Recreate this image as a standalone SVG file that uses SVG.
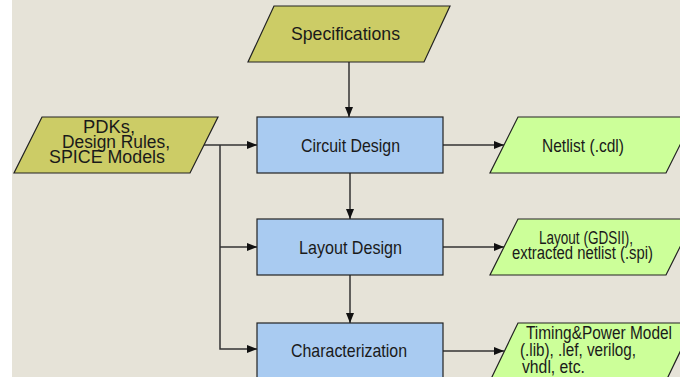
<svg xmlns="http://www.w3.org/2000/svg" width="680" height="377" viewBox="0 0 680 377">
<defs>
<marker id="arr" markerUnits="userSpaceOnUse" markerWidth="10" markerHeight="8" refX="10" refY="4" orient="auto">
<path d="M0,0 L10,4 L0,8 Z" fill="#111"/>
</marker>
<style>
.in{fill:#CCCC66;stroke:#222;stroke-width:1.2}
.pr{fill:#A9CBF1;stroke:#222;stroke-width:1.2}
.out{fill:#CCFF99;stroke:#222;stroke-width:1.2}
text{font-family:"Liberation Sans",Arial,sans-serif;font-size:18px;fill:#1a1a1a}
.big{font-size:19px}
.c line,.c polyline{stroke:#333;stroke-width:1.5;fill:none}
</style>
</defs>
<rect width="680" height="377" fill="#ffffff"/>
<rect x="12" y="0" width="668" height="377" fill="#E6E3D8"/>
<g class="c">
<line x1="349" y1="62" x2="349" y2="117" marker-end="url(#arr)"/>
<line x1="350" y1="173" x2="350" y2="219" marker-end="url(#arr)"/>
<line x1="350" y1="275" x2="350" y2="323" marker-end="url(#arr)"/>
<line x1="204" y1="145" x2="257" y2="145" marker-end="url(#arr)"/>
<polyline points="220,145 220,349 257,349" marker-end="url(#arr)"/>
<line x1="220" y1="247" x2="257" y2="247" marker-end="url(#arr)"/>
<line x1="443" y1="145" x2="504" y2="145" marker-end="url(#arr)"/>
<line x1="443" y1="247" x2="504" y2="247" marker-end="url(#arr)"/>
<line x1="443" y1="351" x2="504" y2="351" marker-end="url(#arr)"/>
</g>
<g id="specifications">
<polygon class="in" points="274,6 450,6 424,62 248,62"/>
<text class="big" x="291" y="40" textLength="109" lengthAdjust="spacingAndGlyphs">Specifications</text>
</g>
<g id="pdks">
<polygon class="in" points="42,117 218,117 190,173 14,173"/>
<text x="83" y="133" textLength="52" lengthAdjust="spacingAndGlyphs">PDKs,</text>
<text x="62" y="148" textLength="108" lengthAdjust="spacingAndGlyphs">Design Rules,</text>
<text x="49" y="163" textLength="116" lengthAdjust="spacingAndGlyphs">SPICE Models</text>
</g>
<g id="circuit-design">
<rect class="pr" x="257" y="117" width="186" height="56"/>
<text class="big" x="301" y="152" textLength="99" lengthAdjust="spacingAndGlyphs">Circuit Design</text>
</g>
<g id="layout-design">
<rect class="pr" x="257" y="219" width="186" height="56"/>
<text class="big" x="299" y="254" textLength="103" lengthAdjust="spacingAndGlyphs">Layout Design</text>
</g>
<g id="characterization">
<rect class="pr" x="257" y="323" width="186" height="58"/>
<text class="big" x="291" y="357" textLength="116" lengthAdjust="spacingAndGlyphs">Characterization</text>
</g>
<g id="netlist">
<polygon class="out" points="518,117 694,117 666,173 490,173"/>
<text class="big" x="542" y="152" textLength="82" lengthAdjust="spacingAndGlyphs">Netlist (.cdl)</text>
</g>
<g id="layout-gdsii">
<polygon class="out" points="518,219 694,219 666,275 490,275"/>
<text x="539" y="244" textLength="94" lengthAdjust="spacingAndGlyphs">Layout (GDSII),</text>
<text x="512" y="259" textLength="141" lengthAdjust="spacingAndGlyphs">extracted netlist (.spi)</text>
</g>
<g id="timing-power">
<polygon class="out" points="518,323 694,323 666,381 490,381"/>
<text x="526" y="339" textLength="146" lengthAdjust="spacingAndGlyphs">Timing&amp;Power Model</text>
<text x="520" y="356" textLength="116" lengthAdjust="spacingAndGlyphs">(.lib), .lef, verilog,</text>
<text x="522" y="373" textLength="63" lengthAdjust="spacingAndGlyphs">vhdl, etc.</text>
</g>
</svg>
